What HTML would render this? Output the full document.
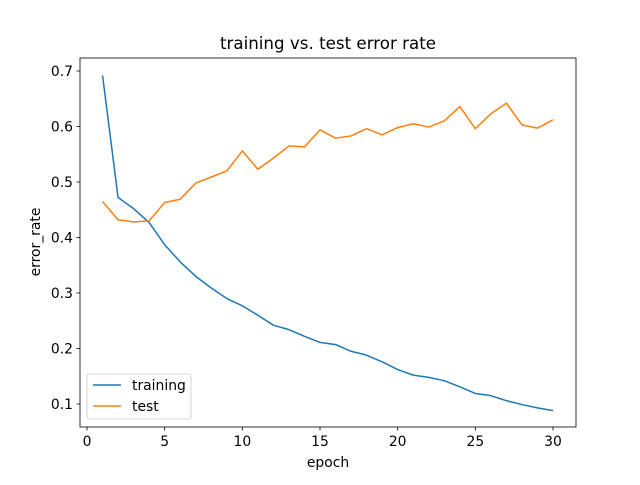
<!DOCTYPE html>
<html><head><meta charset="utf-8"><style>
body{margin:0;background:#fff}
svg text{font-family:"DejaVu Sans","Liberation Sans",sans-serif;fill:#000}
</style></head><body>
<svg id="chart" width="640" height="480" xmlns="http://www.w3.org/2000/svg">
<rect width="640" height="480" fill="#fff"/>
<text x="328" y="49" font-size="16.7" text-anchor="middle">training vs. test error rate</text>
<g id="axes"></g>
<text x="328" y="467" font-size="13.9" text-anchor="middle">epoch</text>
<text transform="translate(40,242) rotate(-90)" font-size="13.9" text-anchor="middle">error_rate</text>
</svg>
<script>
const epochs=[1,2,3,4,5,6,7,8,9,10,11,12,13,14,15,16,17,18,19,20,21,22,23,24,25,26,27,28,29,30];
const training=[0.692,0.472,0.452,0.427,0.387,0.356,0.330,0.309,0.290,0.277,0.260,0.242,0.234,0.222,0.211,0.207,0.195,0.188,0.176,0.162,0.152,0.148,0.142,0.131,0.119,0.115,0.106,0.099,0.093,0.088];
const test=[0.465,0.432,0.428,0.430,0.463,0.469,0.498,0.509,0.520,0.556,0.523,0.543,0.565,0.563,0.594,0.579,0.583,0.596,0.585,0.598,0.605,0.599,0.610,0.636,0.596,0.623,0.642,0.603,0.597,0.612];
const xTicks=[0,5,10,15,20,25,30];
const yTicks=[0.1,0.2,0.3,0.4,0.5,0.6,0.7];
const L=80,R=576,T=58,B=427;
const xs=v=>87+(v-0)*(553-87)/30;
const ys=v=>404-(v-0.1)*(404-71)/0.6;
const NS="http://www.w3.org/2000/svg";
const g=document.getElementById('axes');
function mk(t,a){const e=document.createElementNS(NS,t);for(const k in a)e.setAttribute(k,a[k]);g.appendChild(e);return e;}
xTicks.forEach(v=>{
  const l=mk('line',{x1:xs(v),x2:xs(v),y1:B,y2:B+3.5,stroke:'#000','stroke-width':0.8});
  
  
  const t=mk('text',{x:xs(v),y:B+19,'font-size':13.9,'text-anchor':'middle'});t.textContent=v;
  
  
});
yTicks.forEach(v=>{
  const l=mk('line',{x1:L-3.5,x2:L,y1:ys(v),y2:ys(v),stroke:'#000','stroke-width':0.8});
  
  
  const t=mk('text',{x:L-7,y:ys(v)+5,'font-size':13.9,'text-anchor':'end'});t.textContent=v.toFixed(1);
  
  
});
function line(arr,c,name){
  const p=mk('polyline',{points:arr.map((v,i)=>xs(epochs[i])+','+ys(v)).join(' '),fill:'none',stroke:c,'stroke-width':1.5,'stroke-linejoin':'round'});
  
  
}
line(training,'#1f77b4','training-line');
line(test,'#ff7f0e','test-line');
const f=mk('rect',{x:L,y:T,width:R-L,height:B-T,fill:'none',stroke:'#000','stroke-width':0.8});


const lg=mk('rect',{x:87,y:374,width:104,height:45,rx:2,fill:'#fff','fill-opacity':0.8,stroke:'#ccc','stroke-width':0.8});


[['training','#1f77b4',385],['test','#ff7f0e',406]].forEach(([n,c,y])=>{
  const l=mk('line',{x1:93,x2:121,y1:y,y2:y,stroke:c,'stroke-width':1.5});
  
  
  const t=mk('text',{x:132,y:y+5,'font-size':13.9});t.textContent=n;
  
  
});
</script>
</body></html>
